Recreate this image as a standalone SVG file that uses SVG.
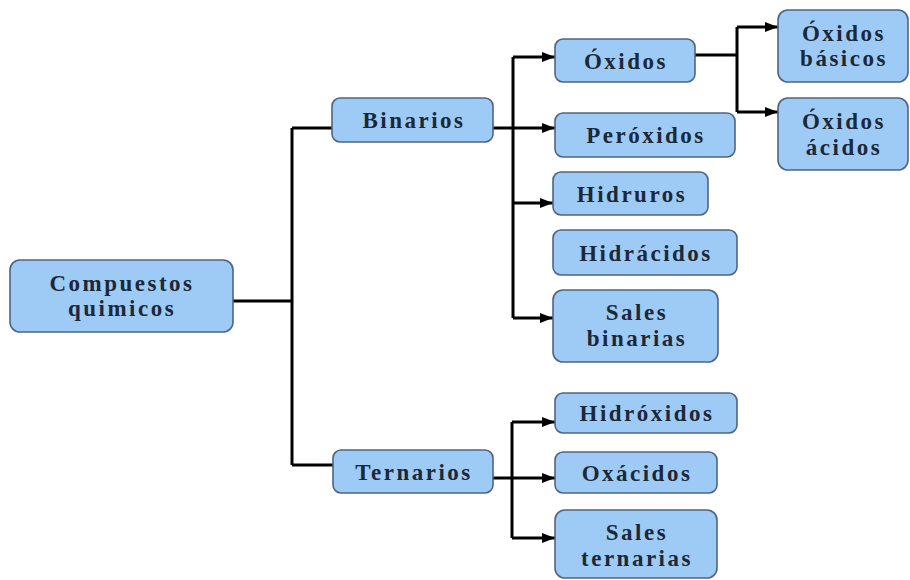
<svg xmlns="http://www.w3.org/2000/svg" width="910" height="580" viewBox="0 0 910 580">
<style>
.box{fill:#9dcbf5;stroke:#4f6480;stroke-width:1.6}
.t{font-family:"Liberation Serif","DejaVu Serif",serif;font-weight:bold;font-size:23px;letter-spacing:2.5px;fill:#1c2838;text-anchor:middle}
.c{fill:none;stroke:#000;stroke-width:3}
</style>
<defs>
<marker id="ah" markerUnits="userSpaceOnUse" markerWidth="14" markerHeight="12" refX="13" refY="6" orient="auto">
<path d="M0,1 L13,6 L0,11 Z" fill="#000"/>
</marker>
</defs>
<rect width="910" height="580" fill="#fff"/>
<g id="connectors">
<path class="c" d="M233,301 H292 M292,128 V465 M292,128 H332 M292,465 H333"/>
<path class="c" d="M493,128 H555" marker-end="url(#ah)"/>
<path class="c" d="M513,57 V318"/>
<path class="c" d="M513,57 H555" marker-end="url(#ah)"/>
<path class="c" d="M513,203 H553" marker-end="url(#ah)"/>
<path class="c" d="M513,318 H553" marker-end="url(#ah)"/>
<path class="c" d="M695,55 H737 M737,27 V112"/>
<path class="c" d="M737,27 H778" marker-end="url(#ah)"/>
<path class="c" d="M737,112 H778" marker-end="url(#ah)"/>
<path class="c" d="M493,478 H555" marker-end="url(#ah)"/>
<path class="c" d="M512,422 V538"/>
<path class="c" d="M512,422 H555" marker-end="url(#ah)"/>
<path class="c" d="M512,538 H555" marker-end="url(#ah)"/>
</g>
<g id="compuestos"><rect class="box" x="10" y="260" width="223" height="72" rx="10"/><text class="t" x="122" y="291">Compuestos</text><text class="t" x="122" y="316">quimicos</text></g>
<g id="binarios"><rect class="box" x="332" y="98" width="161" height="44" rx="8"/><text class="t" x="414" y="128">Binarios</text></g>
<g id="ternarios"><rect class="box" x="333" y="450" width="160" height="43" rx="8"/><text class="t" x="414" y="480">Ternarios</text></g>
<g id="oxidos"><rect class="box" x="555" y="39" width="140" height="43" rx="8"/><text class="t" x="626" y="69">Óxidos</text></g>
<g id="peroxidos"><rect class="box" x="555" y="113" width="180" height="44" rx="8"/><text class="t" x="646" y="143">Peróxidos</text></g>
<g id="hidruros"><rect class="box" x="553" y="172" width="155" height="43" rx="8"/><text class="t" x="632" y="202">Hidruros</text></g>
<g id="hidracidos"><rect class="box" x="553" y="230" width="184" height="45" rx="8"/><text class="t" x="646" y="261">Hidrácidos</text></g>
<g id="salesbinarias"><rect class="box" x="553" y="290" width="165" height="72" rx="10"/><text class="t" x="637" y="320">Sales</text><text class="t" x="637" y="346">binarias</text></g>
<g id="oxidosbasicos"><rect class="box" x="778" y="10" width="130" height="72" rx="10"/><text class="t" x="844" y="41">Óxidos</text><text class="t" x="844" y="66">básicos</text></g>
<g id="oxidosacidos"><rect class="box" x="778" y="98" width="130" height="72" rx="10"/><text class="t" x="844" y="129">Óxidos</text><text class="t" x="844" y="155">ácidos</text></g>
<g id="hidroxidos"><rect class="box" x="555" y="393" width="182" height="40" rx="8"/><text class="t" x="647" y="421">Hidróxidos</text></g>
<g id="oxacidos"><rect class="box" x="555" y="452" width="162" height="41" rx="8"/><text class="t" x="637" y="481">Oxácidos</text></g>
<g id="salesternarias"><rect class="box" x="555" y="510" width="162" height="68" rx="10"/><text class="t" x="637" y="540">Sales</text><text class="t" x="637" y="566">ternarias</text></g>
</svg>
